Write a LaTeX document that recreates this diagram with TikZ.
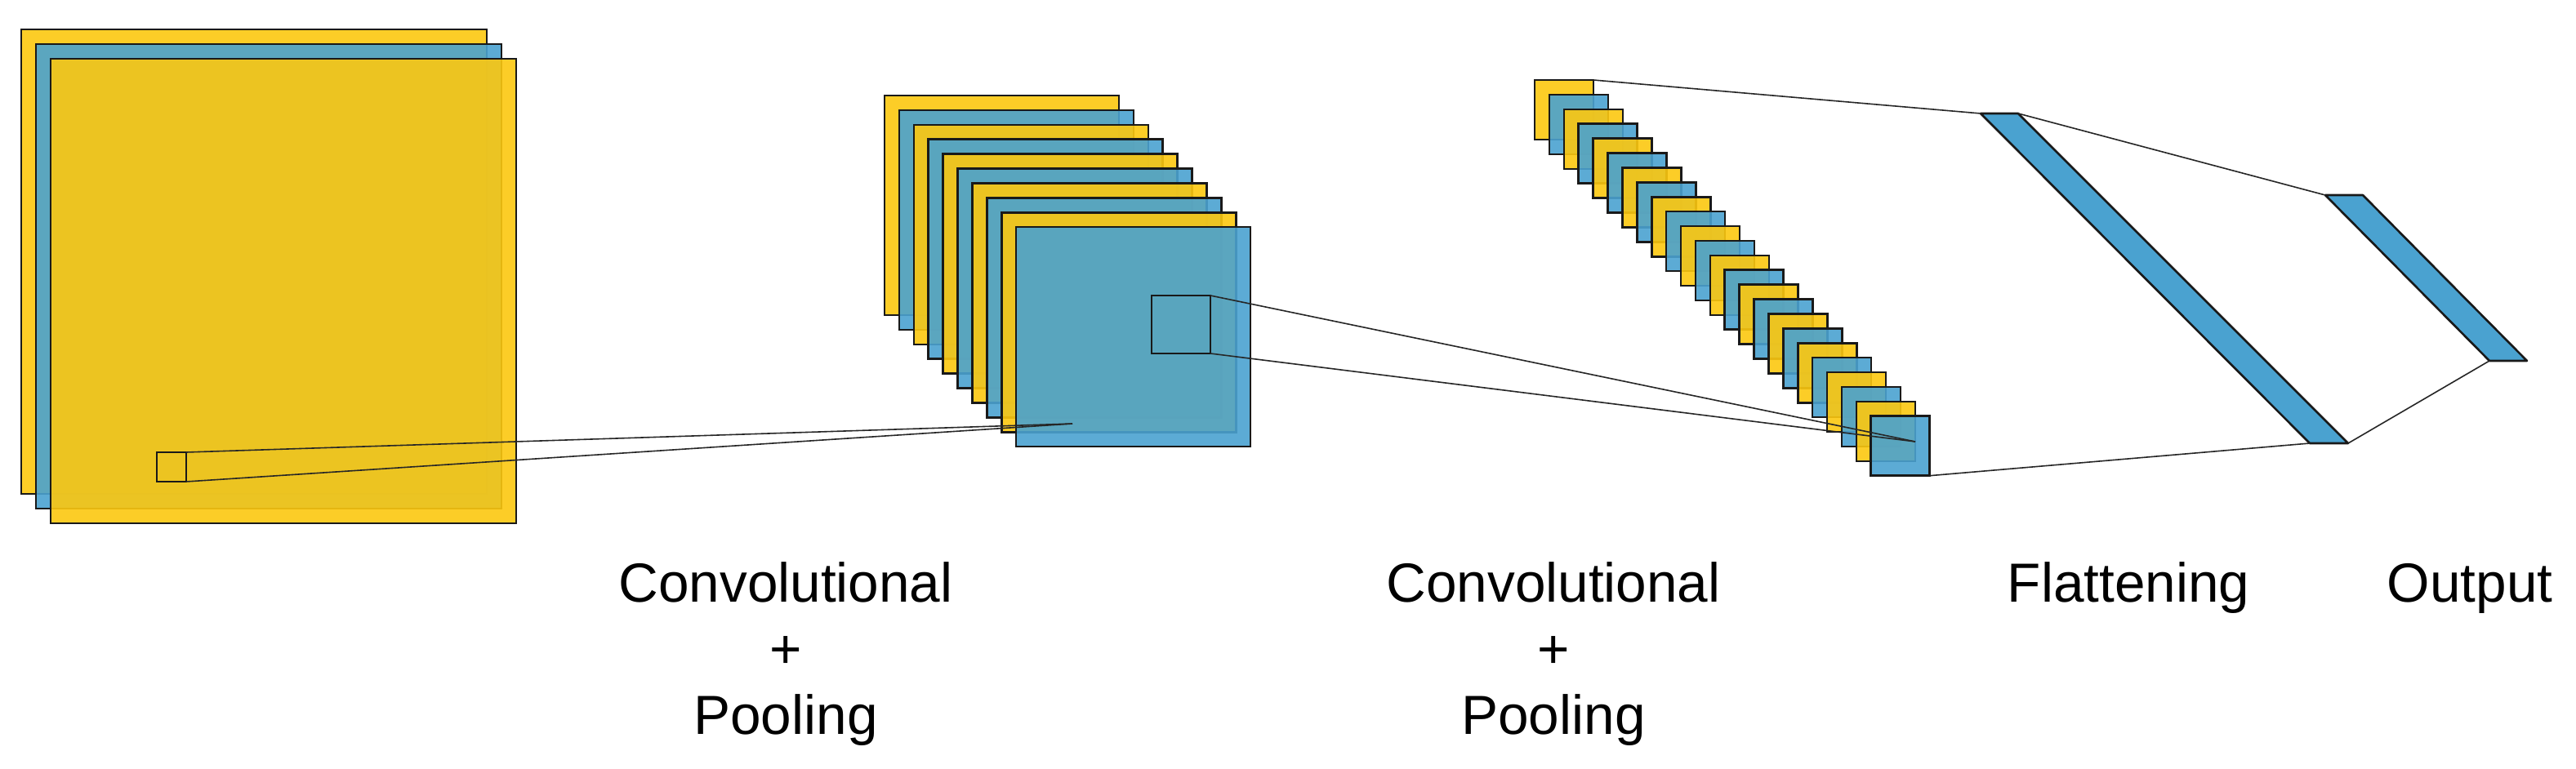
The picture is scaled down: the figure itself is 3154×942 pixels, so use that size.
\documentclass[tikz,border=0pt]{standalone}
\usepackage{fontspec}
\setmainfont{Liberation Sans}
\definecolor{yel}{HTML}{FCC810}
\definecolor{blu}{HTML}{4AA2D0}
\begin{document}
\begin{tikzpicture}[x=1pt,y=-1pt,
  fm/.style={draw=black!90,line width=2.6pt,fill opacity=0.9,inner sep=0,outer sep=0,anchor=north west,rectangle},
  Y/.style={fm,fill=yel},B/.style={fm,fill=blu},
  ln/.style={draw=black!85,line width=1.6pt},
  lab/.style={font=\fontsize{67.5}{80}\selectfont,inner sep=0,anchor=base}]
\useasboundingbox (0,0) rectangle (3154,942);
% big stack
\foreach \i/\c in {0/Y,1/B,2/Y}
  \node[\c,minimum width=570,minimum height=569] (a\i) at ({26+18*\i},{36+18*\i}) {};
\node[fm,minimum width=36,minimum height=36] (ab) at (192,554) {};
% second stack
\foreach \i in {0,...,9}{
  \pgfmathsetmacro\xx{1083+17.9*\i}
  \pgfmathsetmacro\yy{117+17.9*\i}
  \ifodd\i \node[B,minimum width=287,minimum height=269] (b\i) at (\xx,\yy) {};
  \else \node[Y,minimum width=287,minimum height=269] (b\i) at (\xx,\yy) {}; \fi}
\node[fm,minimum width=72,minimum height=71] (bb) at (1410,362) {};
\coordinate (pa) at (1313,519);
\draw[ln] (ab.north east) -- (pa);
\draw[ln] (ab.south east) -- (pa);
% third stack
\foreach \i in {0,...,23}{
  \pgfmathsetmacro\xx{1879+17.9*\i}
  \pgfmathsetmacro\yy{98+17.9*\i}
  \ifodd\i \node[B,minimum width=72,minimum height=73] (c\i) at (\xx,\yy) {};
  \else \node[Y,minimum width=72,minimum height=73] (c\i) at (\xx,\yy) {}; \fi}
\coordinate (pb) at (2345,541);
\draw[ln] (bb.north east) -- (pb);
\draw[ln] (bb.south east) -- (pb);
% flatten
\coordinate (f1) at (2425,139); \coordinate (f2) at (2471,139);
\coordinate (f3) at (2875,543); \coordinate (f4) at (2828,543);
\draw[fill=blu,draw=black!90,line width=2.6pt,line join=round] (f1)--(f2)--(f3)--(f4)--cycle;
\coordinate (o1) at (2847,239); \coordinate (o2) at (2893,239);
\coordinate (o3) at (3094,442); \coordinate (o4) at (3048,442);
\draw[fill=blu,draw=black!90,line width=2.6pt,line join=round] (o1)--(o2)--(o3)--(o4)--cycle;
\draw[ln] (c0.north east) -- (f1);
\draw[ln] (c23.south east) -- (f4);
\draw[ln] (f2) -- (o1);
\draw[ln] (f3) -- (o4);
% labels
\node[lab] (l1) at (962,737) {Convolutional};
\node[lab] (l2) at (962,818) {+};
\node[lab] (l3) at (962,899) {Pooling};
\node[lab] (m1) at (1902,737) {Convolutional};
\node[lab] (m2) at (1902,818) {+};
\node[lab] (m3) at (1902,899) {Pooling};
\node[lab] (fl) at (2606,737) {Flattening};
\node[lab] (ou) at (3024,737) {Output};
\end{tikzpicture}
\end{document}
